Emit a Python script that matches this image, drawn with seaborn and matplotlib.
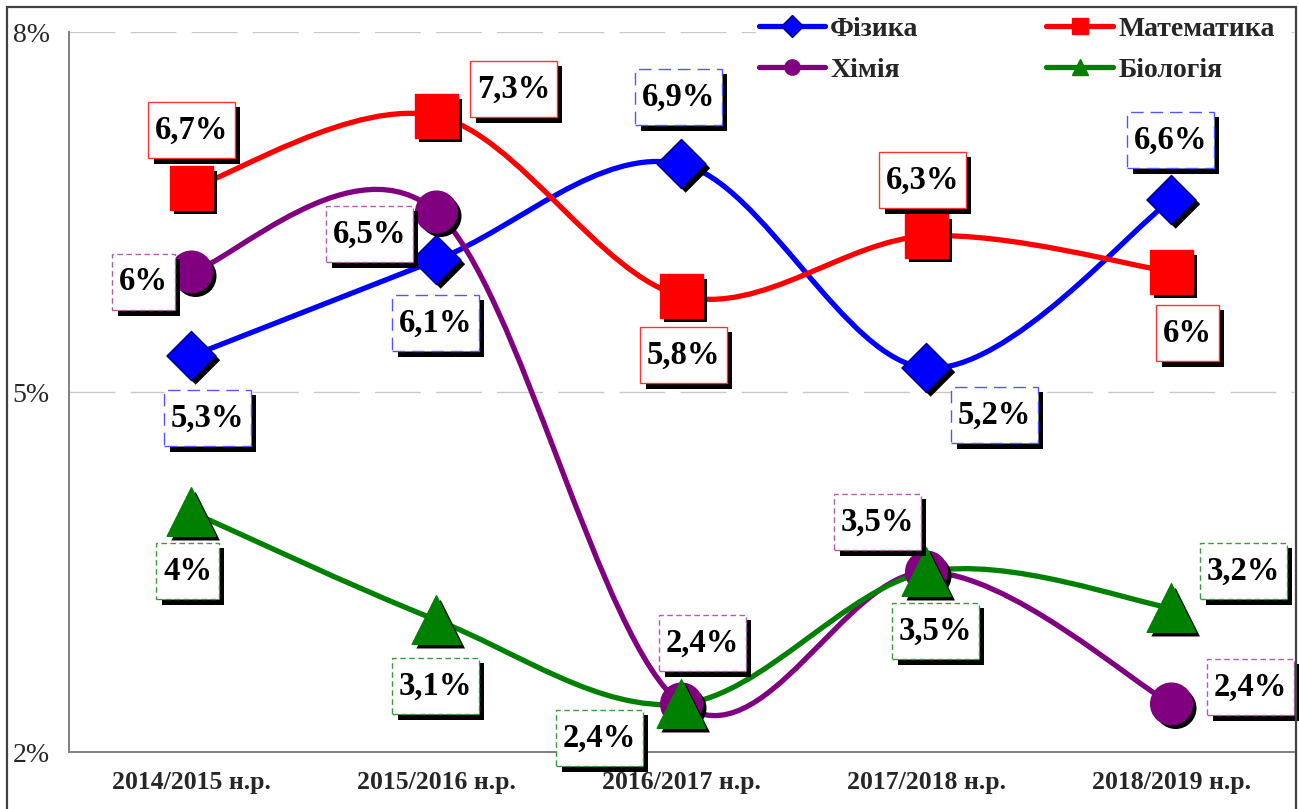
import numpy as np
import pandas as pd
import matplotlib
matplotlib.use("Agg")
import matplotlib.pyplot as plt
import seaborn as sns
from matplotlib.path import Path
from matplotlib.patches import PathPatch, Rectangle
from matplotlib.lines import Line2D
import matplotlib.patheffects as pe

# ---- data ----
years = ["2014/2015 н.р.", "2015/2016 н.р.", "2016/2017 н.р.", "2017/2018 н.р.", "2018/2019 н.р."]
fizyka = [5.3, 6.1, 6.9, 5.2, 6.6]
matematyka = [6.7, 7.3, 5.8, 6.3, 6.0]
khimiia = [6.0, 6.5, 2.4, 3.5, 2.4]
biolohiia = [4.0, 3.1, 2.4, 3.5, 3.2]
series_names = ["Фізика", "Математика", "Хімія", "Біологія"]
y_ticks = [2, 5, 8]

# ---- style ----
sns.set_theme(style="white")
plt.rcParams["font.family"] = ["Liberation Serif", "DejaVu Serif"]

colors = {"Фізика": "#0000ff", "Математика": "#ff0000", "Хімія": "#800080", "Біологія": "#008000"}
edge_marker = {"Фізика": "#000080", "Математика": "#ff0000", "Хімія": "#800080", "Біологія": "#008000"}
box_edge = {"Фізика": "#5555ff", "Математика": "#ff3333", "Хімія": "#b05cb0", "Біологія": "#3a9a3a"}
box_ls = {"Фізика": (0, (9, 5)), "Математика": "-", "Хімія": (0, (4, 2.5)), "Біологія": (0, (4, 2.5))}
markers = {"Фізика": "D", "Математика": "s", "Хімія": "o", "Біологія": "^"}
msize = {"Фізика": 25, "Математика": 31, "Хімія": 30, "Біологія": 35}

values = {"Фізика": fizyka, "Математика": matematyka, "Хімія": khimiia, "Біологія": biolohiia}

# label offsets in pixels (layout)
offsets = {
    "Фізика": [(16, -62), (-1, -63), (-3, 67), (68, -47), (-1, 60)],
    "Математика": [(0, 58), (77, 27), (2, -59), (-4, 56), (16, -61)],
    "Хімія": [(-48, -10), (-67, -22), (21, 61), (-49, 50), (79, 17)],
    "Біологія": [(-4, -59), (-1, -66), (-82, -34), (9, -59), (72, 37)],
}

W, H = 1299, 809
fig = plt.figure(figsize=(W / 100, H / 100), dpi=100)
ax = fig.add_axes([69 / W, 1 - 752 / H, (1294 - 69) / W, (752 - 32) / H])

xpos = np.arange(len(years), dtype=float)


def smooth_path(xs, ys):
    pts = np.column_stack([xs, ys]).astype(float)
    n = len(pts)
    verts = [pts[0]]
    codes = [Path.MOVETO]
    for i in range(n - 1):
        p0 = pts[i - 1] if i > 0 else pts[i]
        p1 = pts[i]
        p2 = pts[i + 1]
        p3 = pts[i + 2] if i + 2 < n else pts[i + 1]
        c1 = p1 + (p2 - p0) / 6.0
        c2 = p2 - (p3 - p1) / 6.0
        verts += [c1, c2, p2]
        codes += [Path.CURVE4] * 3
    return Path(verts, codes)


def label_box(x0, y0, width, height, mutation_size):
    px = 0.2 * mutation_size
    py = 0.39 * mutation_size
    x0, y0 = x0 - px, y0 - py
    x1, y1 = x0 + width + 2 * px, y0 + height + 2 * py
    return Path([(x0, y0), (x1, y0), (x1, y1), (x0, y1), (x0, y0)], closed=True)


# smooth lines
for name in series_names:
    patch = PathPatch(smooth_path(xpos, values[name]), fill=False, edgecolor=colors[name],
                      lw=3.8, capstyle="round", joinstyle="round", zorder=2)
    ax.add_patch(patch)

# markers (with shadow)
shadow = [pe.SimplePatchShadow(offset=(3, -3), shadow_rgbFace="black", alpha=1.0), pe.Normal()]
for name in ["Математика", "Хімія", "Фізика", "Біологія"]:
    df = pd.DataFrame({"x": xpos, "y": values[name]})
    n_before = len(ax.collections)
    sns.scatterplot(data=df, x="x", y="y", marker=markers[name], s=msize[name] ** 2,
                    color=colors[name], edgecolor=edge_marker[name], linewidth=1.0,
                    ax=ax, zorder=4, legend=False)
    for c in ax.collections[n_before:]:
        c.set_path_effects(shadow)


def fmt(v):
    s = f"{v:g}".replace(".", ",")
    return s + "%"


# data labels
box_shadow = [pe.SimplePatchShadow(offset=(4, -4), shadow_rgbFace="black", alpha=1.0), pe.Normal()]
for name in series_names:
    for i, v in enumerate(values[name]):
        dx, dy = offsets[name][i]
        t = ax.annotate(fmt(v), xy=(xpos[i], v), xytext=(dx, dy), textcoords="offset pixels",
                        ha="center", va="center", fontsize=23.5, fontweight="bold", color="black",
                        bbox=dict(boxstyle=label_box, fc="white", ec=box_edge[name],
                                  ls=box_ls[name], lw=1.0),
                        zorder=6, annotation_clip=False)
        t.get_bbox_patch().set_path_effects(box_shadow)

# axes
ax.set_xlim(-0.5, len(years) - 0.5)
ax.set_ylim(2, 8)
ax.set_yticks(y_ticks)
ax.set_yticklabels([f"{v}%" for v in y_ticks], fontsize=20)
ax.set_xticks(xpos)
ax.set_xticklabels(years, fontsize=18.5, fontweight="bold")
ax.set_xticks(np.arange(-0.5, len(years), 1.0), minor=True)
ax.tick_params(axis="x", which="major", length=0, pad=14)
ax.tick_params(axis="x", which="minor", length=6, width=1.2, color="#222222", direction="out")
ax.tick_params(axis="y", which="major", length=6, width=1.2, color="#222222", direction="out", pad=8)
ax.set_xlabel("")
ax.set_ylabel("")
for s in ["top", "right"]:
    ax.spines[s].set_visible(False)
for s in ["left", "bottom"]:
    ax.spines[s].set_color("#808080")
    ax.spines[s].set_linewidth(1.4)
ax.grid(False)
for yv in [5, 8]:
    ax.axhline(yv, color="#c8c8c8", lw=1.0, ls=(0, (33, 11)), zorder=0)

# legend
handles = []
for name in ["Фізика", "Хімія", "Математика", "Біологія"]:
    handles.append(Line2D([0], [0], color=colors[name], lw=3.8, marker=markers[name],
                          markersize={"Фізика": 11, "Математика": 12, "Хімія": 11, "Біологія": 12}[name],
                          markerfacecolor=colors[name], markeredgecolor=edge_marker[name],
                          solid_capstyle="round", label=name))
leg = fig.legend(handles=handles, loc="upper left", bbox_to_anchor=(742 / W, 1.0),
                 ncol=2, frameon=True, fancybox=False, edgecolor="white", facecolor="white",
                 framealpha=1, prop={"size": 20, "weight": "bold"}, handlelength=2.4,
                 handletextpad=0.18, columnspacing=4.6, labelspacing=0.55, borderpad=0.1)

# figure border
fig.add_artist(Rectangle((7 / W, -0.02), (1296 - 7) / W, 1.02 - 7 / H, transform=fig.transFigure,
                         fill=False, ec="#404040", lw=1.6, zorder=10))

fig.savefig("out.png", dpi=100)
